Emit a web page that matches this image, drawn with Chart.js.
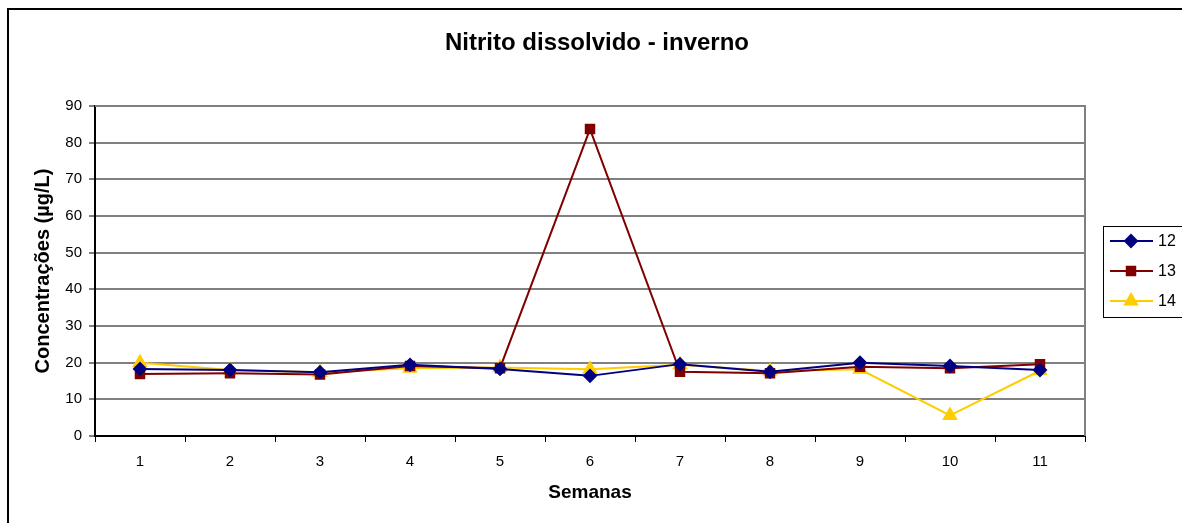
<!DOCTYPE html>
<html>
<head>
<meta charset="utf-8">
<script src="https://cdn.jsdelivr.net/npm/chart.js@4"></script>
<style>
  html, body { margin: 0; padding: 0; background: #fff; overflow: hidden; }
  #frame { position: absolute; left: 7px; top: 8px; width: 1300px; height: 600px; border: 2px solid #000; box-sizing: border-box; }
  #wrap { position: absolute; left: 0; top: 0; width: 1182px; height: 523px; }
</style>
</head>
<body>
<div id="frame"></div>
<div id="wrap"><canvas id="chart"></canvas></div>
<script>
const semanas = ['1', '2', '3', '4', '5', '6', '7', '8', '9', '10', '11'];
const serie12 = [18.3, 18.0, 17.4, 19.4, 18.3, 16.4, 19.6, 17.5, 20.0, 19.1, 18.0];
const serie13 = [16.9, 17.1, 16.8, 19.1, 18.5, 83.7, 17.5, 17.1, 18.9, 18.5, 19.6];
const serie14 = [20.0, 18.0, 17.4, 18.5, 18.7, 18.2, 19.4, 17.7, 18.2, 5.6, 17.8];
const nomes = ['12', '13', '14'];
const titulo = 'Nitrito dissolvido - inverno';

const fonte = 'Liberation Sans, Arial, sans-serif';

// title, plot border (top / right in gray) and the boxed legend on the right
const extras = {
    id: 'extras',
    beforeDatasetsDraw(chart) {
        const ctx = chart.ctx, a = chart.chartArea;
        ctx.save();
        ctx.strokeStyle = '#808080';
        ctx.lineWidth = 2;
        ctx.beginPath();
        ctx.moveTo(a.left, a.top);
        ctx.lineTo(a.right, a.top);
        ctx.lineTo(a.right, a.bottom);
        ctx.stroke();
        ctx.restore();
    },
    afterDraw(chart) {
        const ctx = chart.ctx;
        ctx.save();
        ctx.fillStyle = '#000';
        ctx.font = 'bold 24px ' + fonte;
        ctx.textAlign = 'center';
        ctx.textBaseline = 'middle';
        ctx.fillText(titulo, 597, 43);

        const bx = 1103, by = 226, bw = 100, bh = 91;
        ctx.fillStyle = '#fff';
        ctx.fillRect(bx, by, bw, bh);
        ctx.strokeStyle = '#000';
        ctx.lineWidth = 1;
        ctx.strokeRect(bx + 0.5, by + 0.5, bw, bh);
        chart.data.datasets.forEach((ds, i) => {
            const y = by + 15 + i * 30;
            ctx.strokeStyle = ds.borderColor;
            ctx.lineWidth = 2;
            ctx.beginPath();
            ctx.moveTo(1110, y);
            ctx.lineTo(1153, y);
            ctx.stroke();
            ctx.fillStyle = ds.borderColor;
            Chart.helpers.drawPoint(ctx, {
                pointStyle: ds.pointStyle,
                radius: ds.pointRadius,
                borderWidth: 1,
                rotation: 0
            }, 1131, y);
            ctx.fillStyle = '#000';
            ctx.font = '16px ' + fonte;
            ctx.textBaseline = 'middle';
            ctx.textAlign = 'left';
            ctx.fillText(ds.label, 1158, y + 1);
        });
        ctx.restore();
    }
};

function serie(label, data, cor, estilo, raio) {
    return {
        label: label,
        data: data,
        borderColor: cor,
        backgroundColor: cor,
        pointBackgroundColor: cor,
        pointBorderColor: cor,
        pointStyle: estilo,
        pointRadius: raio,
        pointHoverRadius: raio,
        borderWidth: 2,
        tension: 0
    };
}

new Chart(document.getElementById('chart'), {
    type: 'line',
    data: {
        labels: semanas,
        datasets: [
            serie(nomes[0], serie12, '#000080', 'rectRot', 6),
            serie(nomes[1], serie13, '#800000', 'rect', 6),
            serie(nomes[2], serie14, '#FFCC00', 'triangle', 7)
        ]
    },
    options: {
        responsive: true,
        maintainAspectRatio: false,
        animation: false,
        layout: { padding: { left: 0, right: 97, top: 106, bottom: 0 } },
        plugins: {
            legend: { display: false },
            tooltip: { enabled: false },
            title: { display: false }
        },
        scales: {
            x: {
                offset: true,
                afterFit(s) { s.height = 87; },
                grid: { offset: true, drawOnChartArea: false, drawTicks: true, tickLength: 6, color: '#000', lineWidth: 1 },
                border: { color: '#000', width: 2 },
                ticks: { color: '#000', font: { family: fonte, size: 15 }, padding: 11, maxRotation: 0 },
                title: { display: true, text: 'Semanas', color: '#000', font: { family: fonte, size: 19, weight: 'bold' }, padding: { top: 0, bottom: 19 } }
            },
            y: {
                min: 0,
                max: 90,
                afterFit(s) { s.width = 95; },
                grid: { color: '#808080', lineWidth: 2, drawTicks: true, tickLength: 6, tickColor: '#000', tickWidth: 1 },
                border: { color: '#000', width: 2 },
                ticks: { stepSize: 10, color: '#000', font: { family: fonte, size: 15 }, padding: 7 },
                title: { display: true, text: 'Concentrações (µg/L)', color: '#000', font: { family: fonte, size: 20, weight: 'bold' }, padding: { top: 31, bottom: 0 } }
            }
        }
    },
    plugins: [extras]
});
</script>
</body>
</html>
